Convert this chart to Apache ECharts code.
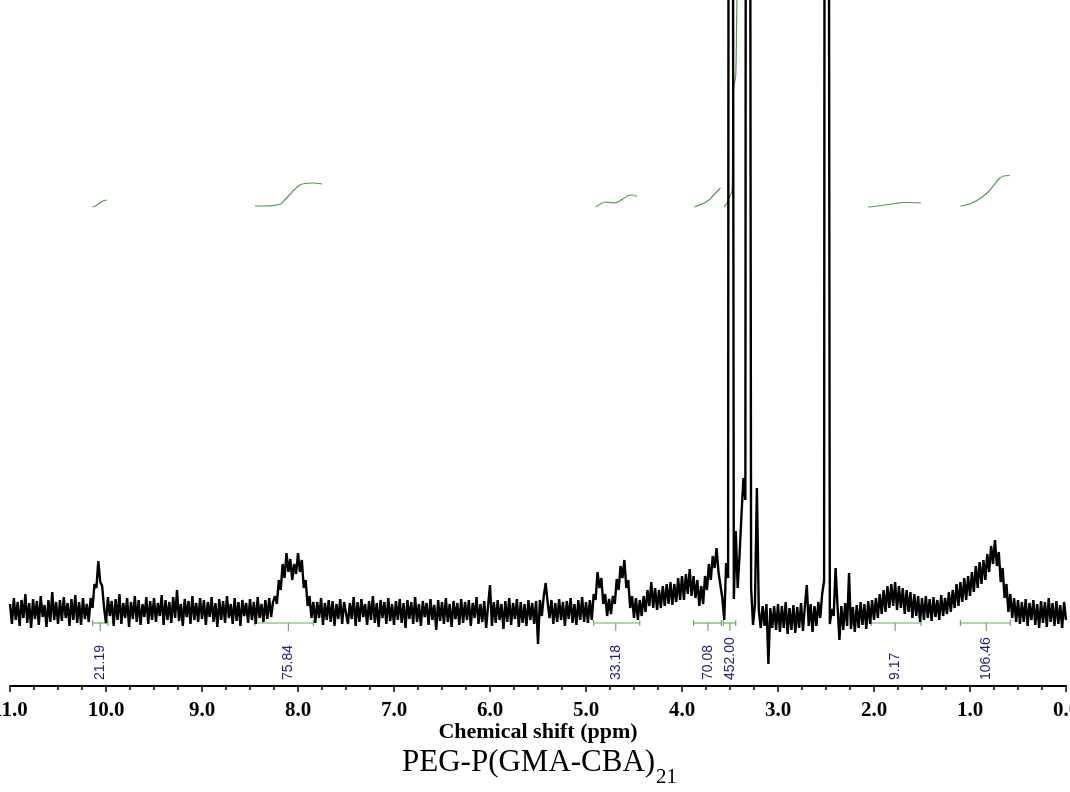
<!DOCTYPE html>
<html><head><meta charset="utf-8">
<script src="https://cdn.jsdelivr.net/npm/echarts@6/dist/echarts.min.js"></script>
<style>html,body{margin:0;padding:0;background:#fff;}#chart{width:1070px;height:792px;}</style>
</head><body><div id="chart"></div>
<script>
// 1H NMR spectrum, sampled every 0.02 ppm from 11.00 ppm down to 0.00 ppm (arbitrary intensity units)
const ppmStart = 11.0;
const ppmStep = 0.02;
const intensities = [
  // 11.00 - 10.52
  12, -8, 18, -4, 14, -10, 16, -2, 22, -7, 13, -12, 17, -3, 15, -9, 20, -1, 11, -11, 16, -6, 24, -4, 14,
  // 10.50 - 10.02
  -8, 16, -5, 19, -2, 13, -10, 17, -4, 21, -7, 14, -9, 18, -3, 12, -6, 18, 8, 32, 28, 55, 34, 30, 8,
  // 10.00 - 9.52
  -7, 19, 0, 15, -10, 17, -4, 22, -8, 13, -2, 18, -11, 14, -3, 20, -6, 16, -9, 12, -1, 19, -8, 15, -4,
  // 9.50 - 9.02
  18, -6, 13, 0, 21, -9, 16, -4, 14, -7, 19, -2, 26, -5, 12, -10, 17, -1, 15, -8, 20, -4, 13, -6, 18,
  // 9.00 - 8.52
  -3, 16, -9, 14, -1, 19, -6, 13, -11, 17, -4, 15, -7, 20, -2, 12, -8, 18, -5, 14, -10, 16, 0, 13, -7,
  // 8.50 - 8.02
  17, -4, 14, -8, 19, -2, 12, -6, 16, -3, 18, -1, 14, 20, 12, 36, 26, 52, 38, 63, 44, 57, 36, 52, 42,
  // 8.00 - 7.52
  63, 44, 56, 28, 36, 10, 20, -2, 14, -7, 14, -2, 18, -9, 13, -4, 16, -6, 15, -10, 12, -3, 17, -8, 14,
  // 7.50 - 7.02
  16, -8, 13, -3, 19, -10, 14, -6, 17, -1, 12, -9, 15, -4, 20, -7, 13, -11, 16, -2, 14, -8, 18, -5, 12,
  // 7.00 - 6.52
  -9, 15, -4, 17, -7, 13, -12, 16, -3, 14, -8, 19, -6, 12, -10, 15, -1, 13, -9, 17, -4, 11, -14, 16, -5,
  // 6.50 - 6.02
  14, -8, 18, -6, 12, -11, 15, -3, 13, -9, 17, -7, 14, -4, 16, -10, 13, -2, 19, -8, 12, -6, 15, -12, 10,
  // 6.00 - 5.52
  31, -10, 14, -7, 16, -4, 12, -13, 15, -6, 18, -9, 13, -3, 17, -11, 14, -7, 12, -10, 16, -4, 13, -8, 15,
  // 5.50 - 5.02
  -28, 16, 0, 20, 33, 14, -2, 16, -8, 13, -6, 17, -4, 14, -10, 15, -3, 18, -7, 12, -9, 16, -4, 19, -6,
  // 5.00 - 4.52
  14, -7, 16, -4, 22, 16, 44, 28, 38, 12, 22, 0, 17, 2, 20, 12, 37, 26, 50, 38, 56, 28, 36, 8, 20,
  // 4.50 - 4.02
  -2, 18, -4, 16, 0, 20, 4, 26, 10, 34, 8, 28, 6, 26, 8, 30, 10, 32, 12, 34, 11, 32, 14, 38, 16,
  // 4.00 - 3.52
  40, 16, 42, 22, 47, 20, 40, 18, 36, 10, 30, 12, 40, 26, 52, 36, 60, 48, 68, 44, 45, 18, -4, 53, 38,
  // 3.50 - 3.02
  3000, 3000, 17, 85, 28, 62, 102, 138, 116, 3000, 3000, 28, -9, 12, 128, 6, -12, 10, -10, 12, -48, 8, -12, 10, -14,
  // 3.00 - 2.52
  12, -16, 10, -12, 14, -18, 8, -14, 11, -17, 9, -12, 13, -15, 10, 31, -10, 12, -16, 10, -10, 14, -2, 22, 35,
  // 2.50 - 2.02
  3000, 3000, -8, 7, 0, 48, 10, -24, 10, -14, 13, -10, 43, -13, 9, -16, 11, -12, 14, -9, 12, -13, 15, -8, 16,
  // 2.00 - 1.52
  -4, 18, -2, 22, 2, 26, 4, 30, 8, 32, 10, 34, 6, 30, 8, 28, 2, 26, 4, 24, -2, 22, 0, 20, -6,
  // 1.50 - 1.02
  18, -4, 20, -2, 17, -5, 19, -1, 16, -4, 21, 0, 18, 2, 24, 4, 26, 8, 32, 10, 34, 14, 38, 16, 40,
  // 1.00 - 0.52
  20, 44, 24, 50, 28, 54, 32, 56, 36, 62, 44, 70, 52, 76, 50, 64, 34, 48, 18, 32, 4, 22, -2, 18, -6,
  // 0.50 - 0.02
  16, -8, 14, -6, 17, -10, 13, -4, 16, -9, 12, -12, 15, -7, 14, -11, 18, -6, 13, -10, 15, -8, 11, -12, 14,
  // 0.00
  -4
];

// integration regions
const integralLabels = ['21.19', '75.84', '33.18', '70.08', '452.00', '9.17', '106.46'];
const integralFrom   = [10.14, 8.45, 4.92, 3.88, 3.57, 2.03, 1.10];
const integralTo     = [9.98, 7.84, 4.44, 3.59, 3.44, 1.51, 0.58];
const integralCenter = [10.06, 8.10, 4.69, 3.73, 3.50, 1.78, 0.83];

// integral traces [ppm, level]
const integralCurve1 = [[10.14,409],[10.11,410],[10.08,412],[10.05,414],[10.02,415.5],[9.99,416]];
const integralCurve2 = [[8.45,410],[8.35,410],[8.25,410.5],[8.18,412],[8.13,417],[8.08,422],[8.03,427],[7.98,431],[7.93,432.5],[7.85,433],[7.75,432]];
const integralCurve3 = [[4.90,409],[4.85,412],[4.80,414],[4.75,413.5],[4.70,413],[4.65,415],[4.60,418],[4.56,420.5],[4.52,421],[4.47,419.5]];
const integralCurve4 = [[3.87,409],[3.82,411],[3.77,413],[3.72,416],[3.68,420],[3.64,424],[3.60,428]];
const integralCurve5 = [[3.56,409],[3.53,413],[3.51,418],[3.48,425],[3.475,440],[3.47,518],[3.455,532],[3.44,541],[3.43,600],[3.42,660]];
const integralCurve6 = [[2.06,409],[2.00,409.5],[1.92,410.5],[1.85,411.5],[1.78,412.5],[1.70,413.5],[1.62,413.5],[1.51,413]];
const integralCurve7 = [[1.10,410],[1.04,411],[0.98,413],[0.92,416],[0.86,420],[0.80,425],[0.75,431],[0.70,437],[0.65,440],[0.585,440.5]];
const integralCurves = [integralCurve1, integralCurve2, integralCurve3, integralCurve4, integralCurve5, integralCurve6, integralCurve7];

// caption text
const captionMain = 'PEG-P(GMA-CBA)';
const captionSub = '21';

// ---------- styling / layout constants ----------
const BRACKET_LEVEL = -7;
const LABEL_LEVEL = -64;
const GREEN = '#4f9a4f';
const BRACKET_GREEN = '#6aab6a';
const NAVY = '#1f1f78';
const SERIF = '"Liberation Serif", "Times New Roman", serif';

const spectrum = intensities.map((v, i) => [+(ppmStart - i * ppmStep).toFixed(2), v]);

const chart = echarts.init(document.getElementById('chart'), null, {renderer: 'canvas'});

const series = [];
integralCurves.forEach(c => {
  series.push({
    type: 'line', data: c, smooth: 0.3, showSymbol: false, symbol: 'none',
    lineStyle: {color: GREEN, width: 1.2}, silent: true, z: 1
  });
});
series.push({
  type: 'custom', z: 2, silent: true,
  data: integralLabels.map((l, i) => [integralFrom[i], integralTo[i], integralCenter[i]]),
  renderItem: function (params, api) {
    const i = params.dataIndex;
    const p1 = api.coord([api.value(0), BRACKET_LEVEL]);
    const p2 = api.coord([api.value(1), BRACKET_LEVEL]);
    const pc = api.coord([api.value(2), BRACKET_LEVEL]);
    const pl = api.coord([api.value(2), LABEL_LEVEL]);
    const st = {stroke: BRACKET_GREEN, lineWidth: 1.2};
    return {
      type: 'group',
      children: [
        {type: 'line', shape: {x1: p1[0], y1: p1[1], x2: p2[0], y2: p2[1]}, style: st},
        {type: 'line', shape: {x1: p1[0], y1: p1[1] - 3, x2: p1[0], y2: p1[1] + 3}, style: st},
        {type: 'line', shape: {x1: p2[0], y1: p2[1] - 3, x2: p2[0], y2: p2[1] + 3}, style: st},
        {type: 'line', shape: {x1: pc[0], y1: pc[1], x2: pc[0], y2: pc[1] + 8}, style: st},
        {type: 'text', x: pl[0], y: pl[1], rotation: Math.PI / 2,
          style: {text: integralLabels[i], fill: NAVY, font: '14px "Liberation Sans", Arial, sans-serif',
            align: 'left', verticalAlign: 'middle'}}
      ]
    };
  }
});
series.push({
  type: 'line', data: spectrum, showSymbol: false, symbol: 'none', sampling: null,
  lineStyle: {color: '#000', width: 2.4}, clip: true, silent: true, z: 3
});

chart.setOption({
  animation: false,
  backgroundColor: '#fff',
  title: [
    {
      text: captionMain, left: 402, top: 747, padding: 0,
      textStyle: {fontFamily: SERIF, fontWeight: 'normal', fontSize: 31, color: '#000', lineHeight: 31}
    },
    {
      text: captionSub, left: 656, top: 767, padding: 0,
      textStyle: {fontFamily: SERIF, fontWeight: 'normal', fontSize: 21, color: '#000', lineHeight: 21}
    }
  ],
  grid: {left: 10, right: 4, top: 0, bottom: 106, containLabel: false, outerBoundsMode: 'none'},
  xAxis: {
    type: 'value', min: 0, max: 11, interval: 1, inverse: true,
    axisLine: {show: true, onZero: false, lineStyle: {color: '#000', width: 2}},
    axisTick: {show: true, length: 6, lineStyle: {color: '#000', width: 1.5}},
    minorTick: {show: true, splitNumber: 4, length: 4, lineStyle: {color: '#000', width: 1.5}},
    splitLine: {show: false},
    minorSplitLine: {show: false},
    axisLabel: {
      margin: 14, color: '#000', fontFamily: SERIF,
      fontWeight: 'bold', fontSize: 21, showMinLabel: true, showMaxLabel: true,
      formatter: v => v.toFixed(1)
    },
    name: 'Chemical shift (ppm)', nameLocation: 'middle', nameGap: 35, nameMoveOverlap: false,
    nameTextStyle: {color: '#000', fontFamily: SERIF, fontWeight: 'bold', fontSize: 22}
  },
  yAxis: {type: 'value', min: -70, max: 616, show: false, splitLine: {show: false}},
  series: series
});
</script>
</body></html>
